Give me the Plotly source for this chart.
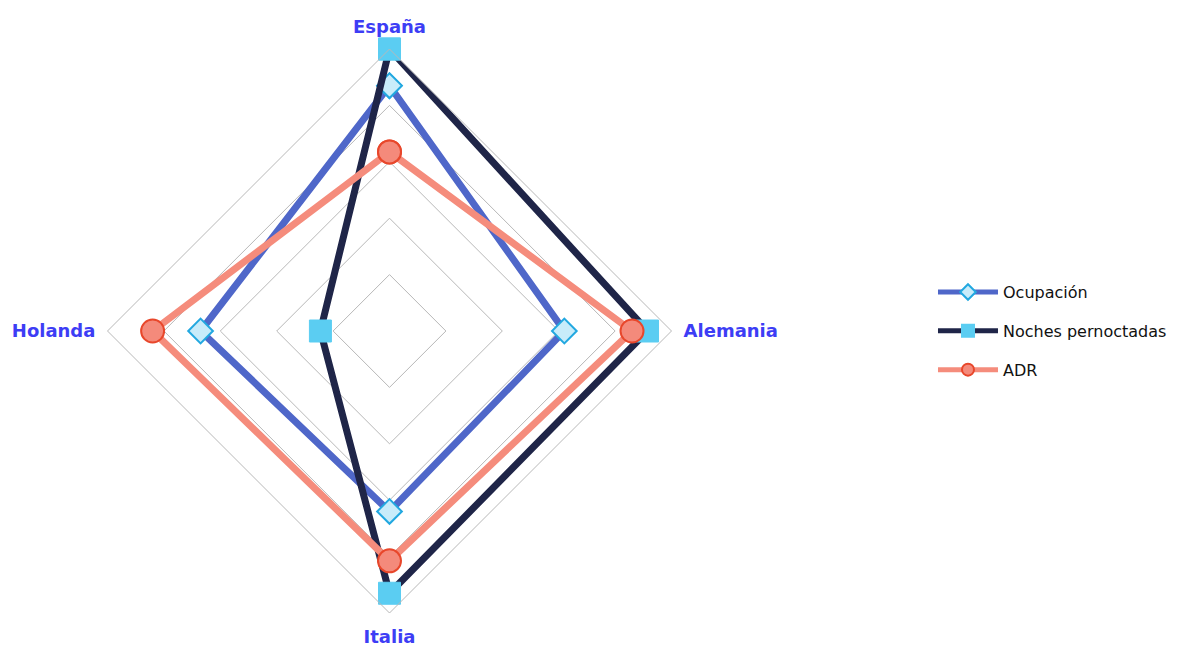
import plotly.graph_objects as go

# Axis categories (clockwise from the top)
paises = ["España", "Alemania", "Italia", "Holanda"]

# Normalised index per country (0–100 scale)
ocupacion = [87, 62, 64, 67]
noches_pernoctadas = [100, 91.5, 93, 24.5]
adr = [63.5, 86, 81.5, 84]

series_nombres = ["Ocupación", "Noches pernoctadas", "ADR"]


def cerrar(vals):
    return list(vals) + [vals[0]]


theta = cerrar(paises)

fig = go.Figure()

fig.add_trace(go.Scatterpolar(
    r=cerrar(ocupacion), theta=theta, name=series_nombres[0],
    legendgroup="a", mode="lines+markers",
    line=dict(color="#4F67C9", width=7),
    marker=dict(symbol="diamond", size=19, color="#C8ECFA",
                line=dict(color="#22A8E0", width=2)),
))
fig.add_trace(go.Scatterpolar(
    r=cerrar(noches_pernoctadas), theta=theta, name=series_nombres[1],
    legendgroup="b", mode="lines+markers",
    line=dict(color="#1F2548", width=7),
    marker=dict(symbol="square", size=22, color="#5BCDF2",
                line=dict(color="#5BCDF2", width=1)),
))
fig.add_trace(go.Scatterpolar(
    r=cerrar(adr), theta=theta, name=series_nombres[2],
    legendgroup="c", mode="lines+markers",
    line=dict(color="#F58C7C", width=7),
    marker=dict(symbol="circle", size=23, color="#F48A7B",
                line=dict(color="#E8472B", width=2)),
))

W, H = 1181, 648
cx, cy, rad = 389.5, 331, 282

fig.update_layout(
    width=W, height=H,
    margin=dict(l=0, r=0, t=0, b=0),
    paper_bgcolor="white",
    plot_bgcolor="white",
    showlegend=True,
    polar=dict(
        domain=dict(x=[(cx - rad) / W, (cx + rad) / W],
                    y=[(H - cy - rad) / H, (H - cy + rad) / H]),
        bgcolor="white",
        gridshape="linear",
        radialaxis=dict(range=[0, 100], tickvals=[20, 40, 60, 80, 100],
                        showticklabels=False, ticks="", showline=False,
                        gridcolor="#B8B8B8", gridwidth=1),
        angularaxis=dict(rotation=90, direction="clockwise",
                         showgrid=False, ticks="outside", ticklen=8,
                         tickcolor="rgba(0,0,0,0)",
                         showline=True, linecolor="#B8B8B8", linewidth=1,
                         tickfont=dict(family="DejaVu Sans", size=18,
                                       color="#3D3DF5", weight="bold")),
    ),
    legend=dict(x=0.79, y=0.489, xanchor="left", yanchor="middle",
                font=dict(family="DejaVu Sans", size=16, color="#111111"),
                tracegroupgap=15, itemwidth=60, itemsizing="constant",
                bgcolor="rgba(0,0,0,0)"),
)

fig.write_html("out.html")
